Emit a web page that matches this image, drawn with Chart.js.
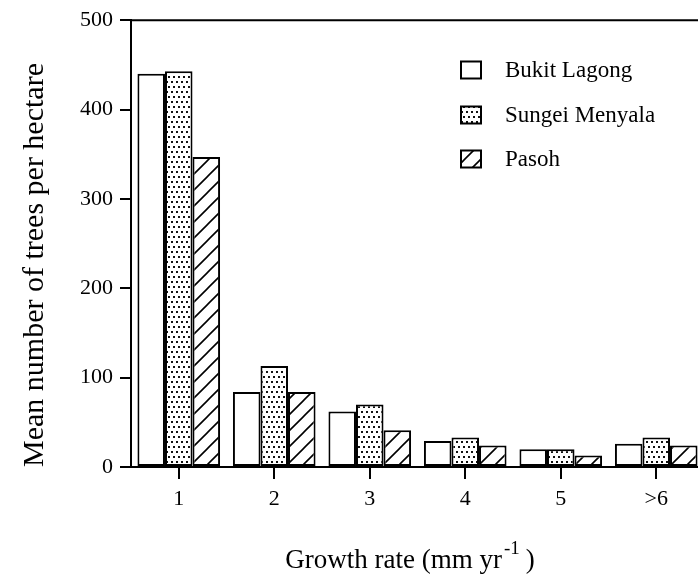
<!DOCTYPE html>
<html>
<head>
<meta charset="utf-8">
<script src="https://cdn.jsdelivr.net/npm/chart.js@4.4.1/dist/chart.umd.min.js"></script>
<style>
  html, body { margin: 0; padding: 0; background: #fff; overflow: hidden; }
  #wrap { position: relative; width: 704px; height: 577px; }
</style>
</head>
<body>
<div id="wrap"><canvas id="growthChart"></canvas></div>
<script>
const categories = ['1', '2', '3', '4', '5', '>6'];
const bukitLagong = [440, 84, 62, 29, 20, 26];
const sungeiMenyala = [443, 113, 70, 33, 20, 33];
const pasoh = [347, 84, 41, 24, 13, 24];
const yTicks = [0, 100, 200, 300, 400, 500];

const serif = '"Liberation Serif", "Times New Roman", serif';

// fill patterns like the printed figure
function dotPattern() {
  const c = document.createElement('canvas');
  c.width = 5; c.height = 10;
  const g = c.getContext('2d');
  g.fillStyle = '#fff';
  g.fillRect(0, 0, 5, 10);
  g.fillStyle = '#111';
  g.fillRect(1, 1, 2, 2);
  g.fillRect(3, 6, 2, 2);
  return g.createPattern(c, 'repeat');
}

function hatchPattern() {
  const c = document.createElement('canvas');
  c.width = 16; c.height = 16;
  const g = c.getContext('2d');
  g.fillStyle = '#fff';
  g.fillRect(0, 0, 16, 16);
  g.strokeStyle = '#000';
  g.lineWidth = 1.6;
  g.beginPath();
  g.moveTo(-1, 17); g.lineTo(17, -1);
  g.moveTo(-2, 2); g.lineTo(2, -2);
  g.moveTo(14, 18); g.lineTo(18, 14);
  g.stroke();
  return g.createPattern(c, 'repeat');
}

const frameAndLegend = {
  id: 'frameAndLegend',
  afterDraw(chart) {
    const { ctx, chartArea } = chart;
    ctx.save();

    // top frame line
    ctx.strokeStyle = '#000';
    ctx.lineWidth = 2;
    ctx.beginPath();
    ctx.moveTo(chartArea.left, chartArea.top);
    ctx.lineTo(chartArea.right, chartArea.top);
    ctx.stroke();

    // legend inside the plot
    const rows = [70, 115, 159];
    ctx.font = '23px ' + serif;
    ctx.textBaseline = 'middle';
    ctx.textAlign = 'left';
    chart.data.datasets.forEach((ds, i) => {
      const y = rows[i];
      ctx.fillStyle = ds.backgroundColor;
      ctx.fillRect(461, y - 8.5, 20, 17);
      ctx.strokeStyle = '#000';
      ctx.lineWidth = 2;
      ctx.strokeRect(461, y - 8.5, 20, 17);
      ctx.fillStyle = '#000';
      ctx.fillText(ds.label, 505, y + 1);
    });

    // x axis title with superscript
    const main = 'Growth rate (mm yr';
    const sup = '-1';
    const close = ')';
    ctx.font = '27px ' + serif;
    const wMain = ctx.measureText(main).width;
    const wClose = ctx.measureText(close).width;
    ctx.font = '19px ' + serif;
    const wSup = ctx.measureText(sup).width;
    const total = wMain + 2 + wSup + 6 + wClose;
    let x = 410 - total / 2;
    const base = 568;
    ctx.textBaseline = 'alphabetic';
    ctx.font = '27px ' + serif;
    ctx.fillText(main, x, base);
    x += wMain + 2;
    ctx.font = '19px ' + serif;
    ctx.fillText(sup, x, base - 14);
    x += wSup + 6;
    ctx.font = '27px ' + serif;
    ctx.fillText(close, x, base);
    ctx.restore();
  }
};

const ctx = document.getElementById('growthChart').getContext('2d');

new Chart(ctx, {
  type: 'bar',
  data: {
    labels: categories,
    datasets: [
      { label: 'Bukit Lagong', data: bukitLagong, backgroundColor: '#fff' },
      { label: 'Sungei Menyala', data: sungeiMenyala, backgroundColor: dotPattern() },
      { label: 'Pasoh', data: pasoh, backgroundColor: hatchPattern() }
    ].map(ds => Object.assign(ds, {
      borderColor: '#000',
      borderWidth: 2,
      borderSkipped: false,
      categoryPercentage: 0.865,
      barPercentage: 1.0
    }))
  },
  options: {
    responsive: true,
    maintainAspectRatio: false,
    animation: false,
    layout: { padding: { top: 14, left: 0, right: 0, bottom: 0 } },
    plugins: {
      legend: { display: false },
      tooltip: { enabled: false }
    },
    scales: {
      x: {
        afterFit(scale) { scale.height = 110; },
        grid: {
          offset: false,
          drawOnChartArea: false,
          tickLength: 12,
          color: '#000',
          lineWidth: 2
        },
        border: { color: '#000', width: 2 },
        ticks: {
          color: '#000',
          padding: 7,
          font: { family: serif, size: 22 }
        }
      },
      y: {
        min: 0,
        max: 500,
        afterFit(scale) { scale.width = 131; },
        afterBuildTicks(scale) { scale.ticks = yTicks.map(v => ({ value: v })); },
        grid: {
          drawOnChartArea: false,
          tickLength: 11,
          color: '#000',
          lineWidth: 2
        },
        border: { color: '#000', width: 2 },
        ticks: {
          color: '#000',
          padding: 7,
          font: { family: serif, size: 22 }
        },
        title: {
          display: true,
          text: 'Mean number of trees per hectare',
          align: 'start',
          color: '#000',
          padding: { top: 17 },
          font: { family: serif, size: 30 }
        }
      }
    }
  },
  plugins: [frameAndLegend]
});
</script>
</body>
</html>
